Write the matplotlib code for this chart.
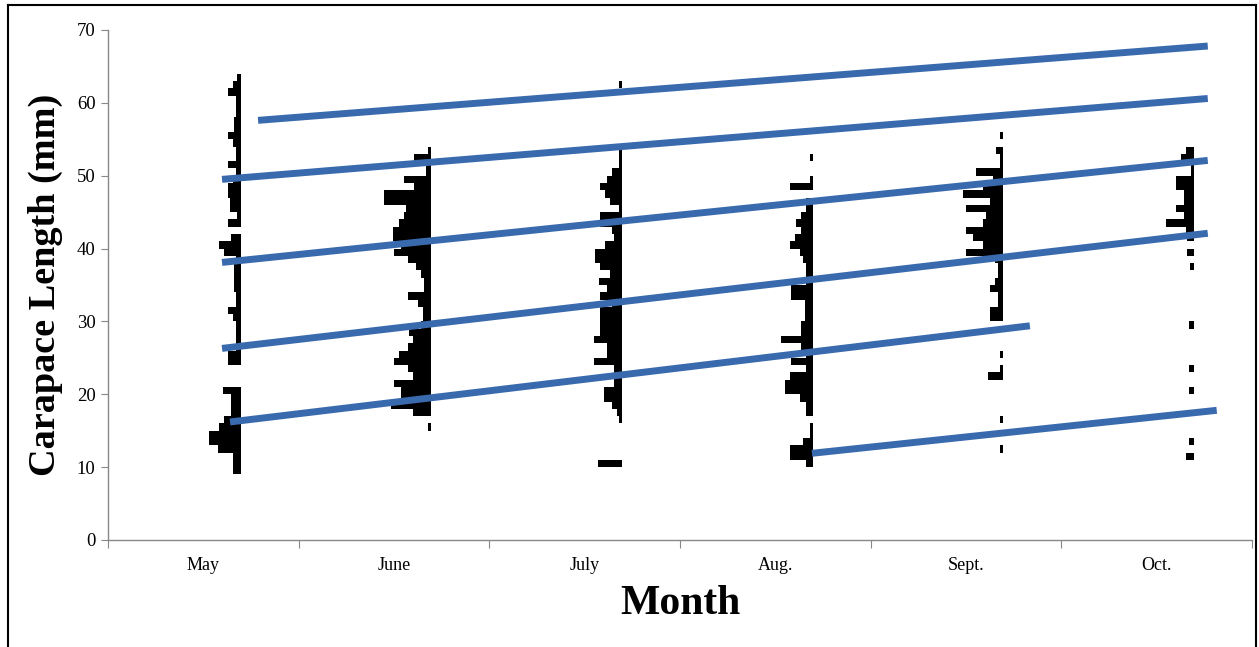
import numpy as np
import matplotlib
matplotlib.use("Agg")
import matplotlib.pyplot as plt
from matplotlib.lines import Line2D

plt.rcParams['font.family'] = ['Liberation Serif', 'DejaVu Serif']

months = ["May", "June", "July", "Aug.", "Sept.", "Oct."]
# carapace length bins (mm), lower edges 9..63
bins = np.arange(9, 64)

# relative frequency per bin (rows: 9-18, 19-28, 29-38, 39-48, 49-58, 59-63)
may = [8, 8, 8, 23, 32, 32, 22, 17, 10, 10,
       10, 18, 0, 0, 0, 13, 13, 5, 5, 5,
       5, 8, 13, 5, 5, 7, 7, 7, 7, 5,
       17, 22, 10, 0, 13, 4, 11, 11, 13, 13,
       8, 5, 13, 5, 5, 8, 13, 7, 7, 5,
       5, 5, 13, 8, 4]
june = [0, 0, 0, 0, 0, 0, 3, 0, 18, 40,
        30, 30, 37, 18, 23, 37, 32, 23, 18, 22,
        10, 8, 8, 13, 23, 7, 7, 10, 15, 23,
        37, 30, 38, 38, 32, 27, 25, 47, 47, 17,
        27, 5, 5, 17, 3, 0, 0, 0, 0, 0,
        0, 0, 0, 0, 0]
july = [0, 24, 0, 0, 0, 0, 0, 3, 5, 10,
        18, 18, 8, 8, 8, 28, 15, 15, 28, 22,
        22, 22, 22, 10, 22, 15, 23, 12, 22, 27,
        27, 17, 8, 10, 22, 22, 3, 12, 17, 22,
        15, 10, 3, 3, 3, 0, 0, 0, 0, 0,
        0, 0, 0, 3, 0]
aug = [0, 7, 23, 23, 10, 3, 3, 0, 7, 7,
       13, 28, 28, 23, 7, 22, 7, 12, 32, 12,
       12, 8, 8, 8, 22, 22, 7, 7, 7, 10,
       13, 23, 18, 12, 17, 12, 7, 7, 0, 23,
       3, 0, 0, 3, 0, 0, 0, 0, 0, 0,
       0, 0, 0, 0, 0]
sept = [0, 0, 0, 3, 0, 0, 0, 3, 0, 0,
        0, 0, 0, 15, 3, 0, 3, 0, 0, 0,
        0, 13, 13, 5, 5, 13, 8, 5, 5, 8,
        37, 20, 30, 37, 20, 17, 37, 13, 40, 20,
        10, 27, 3, 3, 7, 0, 3, 0, 0, 0,
        0, 0, 0, 0, 0]
oct_ = [0, 0, 8, 0, 5, 0, 0, 0, 0, 0,
        0, 5, 0, 0, 5, 0, 0, 0, 0, 0,
        5, 0, 0, 0, 0, 0, 0, 0, 4, 0,
        7, 0, 7, 8, 28, 10, 18, 10, 10, 18,
        18, 3, 3, 13, 8, 0, 0, 0, 0, 0,
        0, 0, 0, 0, 0]
hists = [may, june, july, aug, sept, oct_]

# cohort growth lines: (x start, length start, x end, length end), x in month units
cohort_x0 = [0.787, 0.598, 0.598, 0.598, 0.640, 3.692]
cohort_y0 = [57.6, 49.5, 38.1, 26.3, 16.2, 11.9]
cohort_x1 = [5.768, 5.768, 5.768, 5.768, 4.835, 5.815]
cohort_y1 = [67.8, 60.6, 52.1, 42.1, 29.4, 17.8]

fig = plt.figure(figsize=(12.59, 6.47), dpi=100)
ax = fig.add_axes([108/1259, 1 - 540/647, (1252-108)/1259, 510/647])

scale = 1 / 190.7  # freq units -> month units
for i, h in enumerate(hists):
    w = np.array(h) * scale
    base = i + 0.695
    ax.barh(bins, w, left=base - w, height=1.0, align='edge', color='black', linewidth=0)

for x0, y0, x1, y1 in zip(cohort_x0, cohort_y0, cohort_x1, cohort_y1):
    ax.plot([x0, x1], [y0, y1], color='#3a6aae', linewidth=5, solid_capstyle='butt')

ax.set_xlim(0, 6)
ax.set_ylim(0, 70)
ax.set_xticks(range(7))
ax.set_xticklabels([])
ax.set_xticks(np.arange(6) + 0.5, minor=True)
ax.set_xticklabels(months, minor=True, fontsize=13)
ax.tick_params(axis='x', which='major', direction='out', length=6, color='#888888')
ax.tick_params(axis='x', which='minor', length=0, pad=12)
ax.set_yticks(range(0, 71, 10))
ax.tick_params(axis='y', direction='out', length=5, labelsize=13.5, color='#888888', pad=4)

for s in ['top', 'right']:
    ax.spines[s].set_visible(False)
for s in ['left', 'bottom']:
    ax.spines[s].set_color('#888888')
    ax.spines[s].set_linewidth(1.0)

ax.set_xlabel("Month", fontsize=30, fontweight='bold', labelpad=8)
ax.set_ylabel("Carapace Length (mm)", fontsize=27.5, fontweight='bold', labelpad=10)

# outer frame
fig.add_artist(Line2D([8/1259, 8/1259], [0, 1 - 5/647], color='black', linewidth=1.5, transform=fig.transFigure))
fig.add_artist(Line2D([8/1259, 1256/1259], [1 - 5/647, 1 - 5/647], color='black', linewidth=1.5, transform=fig.transFigure))
fig.add_artist(Line2D([1256/1259, 1256/1259], [0, 1 - 5/647], color='black', linewidth=1.5, transform=fig.transFigure))

fig.savefig("out.png", dpi=100)
